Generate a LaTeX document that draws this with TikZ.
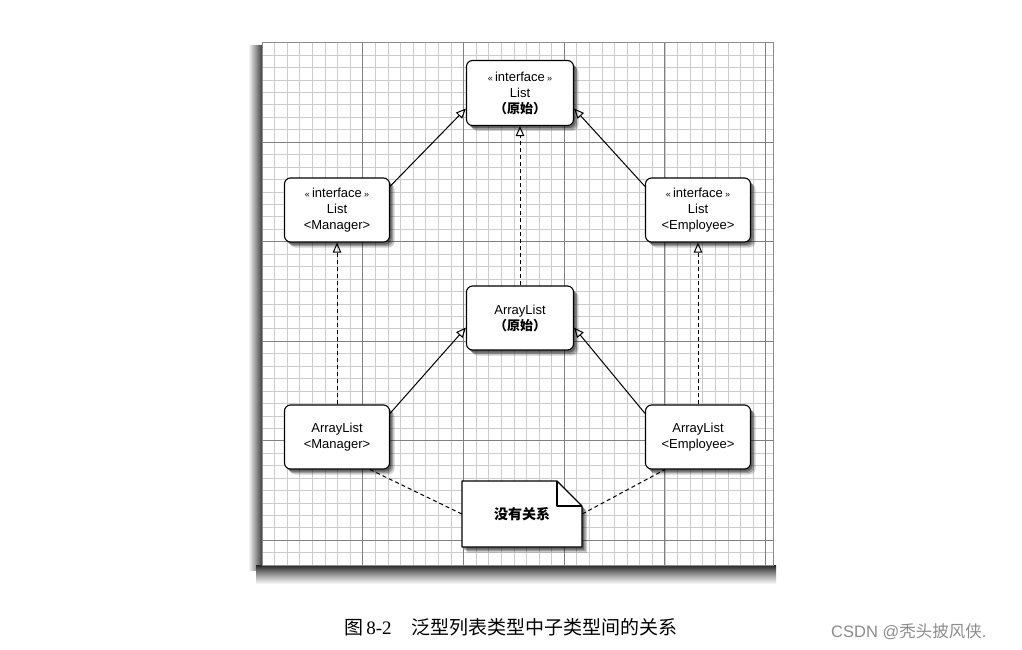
\documentclass[tikz,border=0pt]{standalone}
\usepackage{fontspec}
\setmainfont{Liberation Sans}
\newfontfamily\cjk{Noto Sans CJK SC}
\newfontfamily\serifnum{Liberation Serif}
\usetikzlibrary{arrows.meta,calc}
\tikzset{
  minorline/.style={draw=black!20, line width=0.6pt},
  majorline/.style={draw=black!50, line width=0.9pt},
  shd/.style={
    preaction={fill=black, fill opacity=0.18, transform canvas={xshift=5pt,yshift=-5.5pt}},
    preaction={fill=black, fill opacity=0.25, transform canvas={xshift=3.5pt,yshift=-4pt}},
    preaction={fill=black, fill opacity=0.35, transform canvas={xshift=2pt,yshift=-2.5pt}}},
  box/.style={draw, line width=1.1pt, rounded corners=6pt, fill=white, shd,
    minimum width=105pt, minimum height=64pt, align=center, inner sep=2pt,
    font=\fontsize{13}{16}\selectfont},
  inh/.style={line width=1pt, -{Triangle[open,length=10pt,width=8.5pt]}},
  real/.style={line width=1pt, dash pattern=on 4pt off 3pt, -{Triangle[open,length=10pt,width=8.5pt]}},
  dep/.style={line width=1pt, dash pattern=on 4pt off 3pt},
  notetext/.style={font=\cjk\bfseries\fontsize{14}{16}\selectfont}
}
\newcommand{\lsm}{{\fontsize{9}{9}\selectfont<<}}
\newcommand{\rsm}{{\fontsize{9}{9}\selectfont>>}}
\begin{document}
\begin{tikzpicture}[x=1pt,y=-1pt]
\useasboundingbox (0,0) rectangle (1022,650);
% panel shadows
\shade[left color=white, right color=black!75] (248,46) rectangle (262,570);
\shade[top color=black!85, bottom color=white, middle color=black!40] (256,565) rectangle (776,584);
% panel
\fill[white] (262,42.6) rectangle (773,565);
\begin{scope}
  \clip (262,42.6) rectangle (773,565);
  \foreach \i in {0,...,41} {\draw[minorline] ({262+12.59*\i},40) -- ({262+12.59*\i},567);}
  \foreach \j in {0,...,42} {\draw[minorline] (260,{42.6+12.44*\j}) -- (775,{42.6+12.44*\j});}
  \foreach \i in {8,16,...,40} {\draw[majorline] ({262+12.59*\i},40) -- ({262+12.59*\i},567);}
  \foreach \j in {8,16,...,40} {\draw[majorline] (260,{42.6+12.44*\j}) -- (775,{42.6+12.44*\j});}
\end{scope}
\draw[black!45, line width=0.8pt] (262,42.6) rectangle (773,565);

% nodes
\node[box, minimum width=107pt, minimum height=65pt] (top) at (520,93)
  {\lsm\,interface\,\rsm\\List\\{\cjk\bfseries （原始）}};
\node[box] (lint) at (337,210) {\lsm\,interface\,\rsm\\List\\<Manager>};
\node[box] (rint) at (698,210) {\lsm\,interface\,\rsm\\List\\<Employee>};
\node[box, minimum width=107pt] (mid) at (520,318) {ArrayList\\{\cjk\bfseries （原始）}};
\node[box] (lam) at (337,437) {ArrayList\\<Manager>};
\node[box] (lem) at (698,437) {ArrayList\\<Employee>};

% note shape
\coordinate (nc) at (522,514);
\path[fill=white, draw=black, line width=1.1pt, line join=round, shd]
  ($(nc)+(-60,-33)$) -- ($(nc)+(35,-33)$) -- ($(nc)+(60,-8)$)
  -- ($(nc)+(60,33)$) -- ($(nc)+(-60,33)$) -- cycle;
\draw[line width=1.1pt, line join=round] ($(nc)+(35,-33)$) -- ($(nc)+(35,-8)$) -- ($(nc)+(60,-8)$);
\node[minimum width=120pt, minimum height=66pt, notetext] (note) at (nc) {没有关系};

% connectors
\draw[inh] (lint.24) -- (top.196);
\draw[inh] (rint.156) -- (top.344);
\draw[real] (mid.north) -- (top.south);
\draw[real] (lam.north) -- (lint.south);
\draw[real] (lem.north) -- (rint.south);
\draw[inh] (lam.24) -- (mid.190);
\draw[inh] (lem.156) -- (mid.350);
\draw[dep] (note.west) -- ([xshift=33pt]lam.south);
\draw[dep] (note.east) -- ([xshift=-33pt]lem.south);

% caption
\node[anchor=west, inner sep=0pt, font=\fontsize{19}{22}\selectfont] (cap) at (344,627)
  {{\cjk 图}\,{\serifnum 8-2}\hspace{20pt}{\cjk 泛型列表类型中子类型间的关系}};
\node[anchor=west, inner sep=0pt, text=black!45, font=\fontsize{16.5}{19}\selectfont] (wm) at (831,632)
  {CSDN @{\cjk 秃头披风侠}.};
\end{tikzpicture}
\end{document}
